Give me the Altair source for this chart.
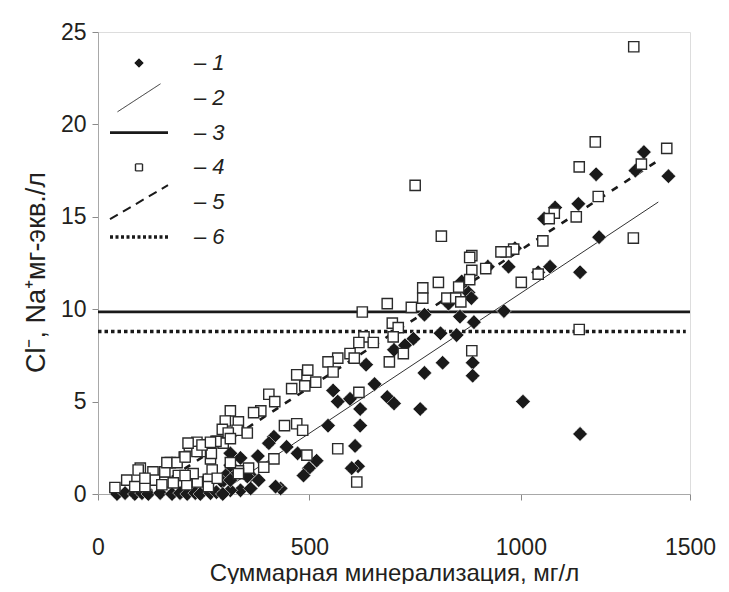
import altair as alt
import pandas as pd

# ---- series 1 : filled diamonds ----
dia_x = [1291, 1178, 1271, 1349, 1081, 1136, 1055, 986, 971, 1069, 1185, 1140, 1041, 960, 1005, 1140,
         922, 860, 876, 883, 829, 856, 889, 810, 848,
         772, 746, 700, 726, 634, 772, 815, 886, 886, 654, 556, 567, 596, 620, 684, 700, 762, 544, 620,
         446, 472, 608, 517, 499, 486, 615, 600, 432,
         416, 404, 378, 337, 313, 361, 380, 337, 361, 313, 420, 306, 313, 294, 353, 313,
         235, 254, 223, 45, 64, 87, 104, 119, 147, 175, 194, 211, 230, 242, 266, 280, 295]
dia_y = [18.5, 17.3, 17.5, 17.2, 15.5, 15.7, 14.9, 13.3, 12.3, 12.3, 13.9, 12.0, 12.0, 9.9, 5.0, 3.25,
         12.3, 11.5, 10.9, 10.6, 10.3, 9.6, 9.3, 8.7, 8.6,
         9.7, 8.4, 7.8, 8.05, 7.0, 6.55, 7.1, 7.1, 6.4, 5.95, 5.6, 5.0, 5.15, 4.6, 5.25, 4.9, 4.6, 3.7, 3.7,
         2.55, 2.2, 2.6, 1.8, 1.4, 1.0, 1.5, 1.4, 0.3,
         3.1, 2.75, 2.05, 1.95, 2.2, 1.0, 0.75, 0.2, 0.3, 0.2, 0.4, 1.1, 1.55, 0.65, 0.95, 0.75,
         0.6, 0.75, 0.4, 0.0, 0.05, 0.0, 0.05, 0.0, 0.05, 0.0, 0.05, 0.0, 0.05, 0.0, 0.05, 0.1, 0.0]

# ---- series 4 : open squares ----
sq_x = [1267, 1176, 1345, 1138, 1285, 1183, 1079, 1067, 1131, 1052, 983, 965, 953, 1266, 1041, 1001, 1138,
        812, 884, 879, 917, 884, 879, 805, 853, 825, 846, 858, 750,
        768, 768, 684, 741, 625, 696, 710, 698, 629, 617, 651, 596, 606, 722, 689, 567, 544, 556, 496,
        470, 515, 489, 458, 884, 617, 441, 470, 484, 494, 567, 612,
        404, 418, 385, 368, 313, 301, 332, 294, 329, 353, 308, 282, 296, 313, 261, 416, 392, 356, 332,
        313, 266, 270, 261, 261,
        216, 234, 254, 279, 242, 268, 204, 171, 100, 130, 68, 40, 135, 158, 190, 178, 210, 235, 282,
        87, 111, 225, 332, 158, 163, 187, 151, 206, 206, 234, 246, 266, 213, 95, 111]
sq_y = [24.2, 19.05, 18.7, 17.7, 17.85, 16.1, 15.2, 14.9, 15.0, 13.7, 13.25, 13.1, 13.1, 13.85, 11.9, 11.45, 8.9,
        13.95, 12.9, 12.8, 12.2, 12.1, 11.6, 11.45, 11.2, 10.6, 10.6, 10.4, 16.7,
        11.15, 10.6, 10.3, 10.1, 9.85, 9.25, 9.0, 8.5, 8.5, 8.2, 8.2, 7.6, 7.35, 7.6, 7.15, 7.35, 7.15, 6.6, 6.7,
        6.45, 6.05, 5.85, 5.7, 7.75, 5.5, 3.7, 3.8, 3.45, 2.1, 2.45, 0.65,
        5.4, 5.0, 4.5, 4.4, 4.5, 3.95, 3.9, 3.5, 3.45, 3.3, 3.3, 2.85, 2.75, 3.0, 2.65, 1.9, 1.45, 1.4, 1.25,
        1.7, 1.9, 1.3, 0.8, 0.4,
        2.6, 2.8, 2.65, 2.85, 2.3, 2.2, 2.0, 1.7, 1.4, 1.2, 0.75, 0.35, 0.75, 0.65, 1.0, 0.6, 0.5, 0.65, 0.85,
        0.4, 0.4, 1.1, 1.1, 1.2, 1.7, 1.7, 0.5, 1.0, 2.0, 2.3, 2.65, 2.8, 2.75, 1.3, 0.85]

# ---- lines ----
trend2_x = [290, 1325]
trend2_y = [0.1, 15.8]
trend5_x = [115, 1325]
trend5_y = [0.03, 18.05]
level3 = 9.85
level6 = 8.8
level_x_start = [0, 0]
level_x_end = [1400, 1390]

series_ids = ["1", "2", "3", "4", "5", "6"]
x_ticks = [0, 500, 1000, 1400]
x_tick_labels = ["0", "500", "1000", "1500"]
y_ticks = [0, 5, 10, 15, 20, 25]

FONT = "Liberation Sans"
INK = "#231f20"

points = pd.concat([
    pd.DataFrame({"x": dia_x, "y": dia_y, "series": "1"}),
    pd.DataFrame({"x": sq_x, "y": sq_y, "series": "4"}),
], ignore_index=True)
points["order"] = range(len(points))

t2 = pd.DataFrame({"x": trend2_x, "y": trend2_y})
t5 = pd.DataFrame({"x": trend5_x, "y": trend5_y})
lv3 = pd.DataFrame({"y": [level3], "x": [level_x_start[0]], "x2": [level_x_end[0]]})
lv6 = pd.DataFrame({"y": [level6], "x": [level_x_start[1]], "x2": [level_x_end[1]]})

label_expr = " : ".join(
    [f"datum.value == {v} ? '{l}'" for v, l in zip(x_ticks, x_tick_labels)] + ["datum.label"]
)

xscale = alt.Scale(domain=[0, 1400], nice=False, zero=False)
yscale = alt.Scale(domain=[0, 25], nice=False)

xaxis = alt.Axis(values=x_ticks, labelExpr=label_expr, grid=False, domainColor="#a8a8a8",
                 tickColor="#8a8a8a", tickSize=6, labelFont=FONT, labelFontSize=23,
                 labelColor=INK, labelPadding=36, labelFlush=False, labelOverlap=False,
                 title="Суммарная минерализация, мг/л", titleFont=FONT, titleFontSize=24,
                 titleFontWeight="normal", titleColor=INK, titleBaseline="middle",
                 titleAlign="center", titleY=79)
yaxis = alt.Axis(values=y_ticks, grid=False, domainColor="#a8a8a8", tickColor="#8a8a8a",
                 tickSize=6, labelFont=FONT, labelFontSize=23, labelColor=INK, labelPadding=6,
                 title="Cl⁻, Na⁺мг-экв./л", titleFont=FONT, titleFontSize=27,
                 titleFontWeight="normal", titleColor=INK, titleBaseline="middle",
                 titleAlign="center", titleX=-62, titleY=240, titleAngle=270)

X = alt.X("x:Q", scale=xscale, axis=xaxis)
Y = alt.Y("y:Q", scale=yscale, axis=yaxis)

legend = alt.Legend(orient="none", legendX=30, legendY=20, title=None,
                    labelExpr="'– ' + datum.label", labelFont=FONT, labelFontSize=22,
                    labelFontStyle="italic", labelColor=INK, rowPadding=-7.2, labelOffset=44,
                    gridAlign="all", symbolSize=100, padding=0, direction="vertical")

shape_range = ["diamond", "M-4.3,2.8L4.3,-2.8", "M-5.8,0L5.8,0",
               "M-0.7,-0.7L0.7,-0.7L0.7,0.7L-0.7,0.7Z", "M-5.8,3.4L5.8,-3.4", "M-5.8,0L5.8,0"]
fill_range = ["#1a1a1a", "transparent", "transparent", "white", "transparent", "transparent"]
stroke_range = ["white", "#1a1a1a", "#1a1a1a", "#2a2a2a", "#1a1a1a", "#1a1a1a"]
dash_range = [[1, 0], [1, 0], [1, 0], [1, 0], [9, 6], [3, 2.5]]
sw_range = [0.6, 0.9, 2.8, 1.4, 2.0, 3.5]

pts = alt.Chart(points).mark_point(filled=True, size=215, opacity=1).encode(
    x=X, y=Y,
    shape=alt.Shape("series:N", scale=alt.Scale(domain=series_ids, range=shape_range), legend=legend),
    fill=alt.Fill("series:N", scale=alt.Scale(domain=series_ids, range=fill_range), legend=legend),
    stroke=alt.Stroke("series:N", scale=alt.Scale(domain=series_ids, range=stroke_range), legend=legend),
    strokeDash=alt.StrokeDash("series:N", scale=alt.Scale(domain=series_ids, range=dash_range), legend=legend),
    strokeWidth=alt.StrokeWidth("series:N", scale=alt.Scale(type="ordinal", domain=series_ids, range=sw_range), legend=legend),
    order=alt.Order("order:Q"),
)

line2 = alt.Chart(t2).mark_line(color="#1a1a1a", strokeWidth=0.9).encode(x=X, y=Y)
line5 = alt.Chart(t5).mark_line(color="#1a1a1a", strokeWidth=2.6, strokeDash=[7, 8]).encode(x=X, y=Y)
rule3 = alt.Chart(lv3).mark_rule(color="#1a1a1a", strokeWidth=2.8).encode(x=X, x2="x2:Q", y=Y)
rule6 = alt.Chart(lv6).mark_rule(color="#1a1a1a", strokeWidth=3.5, strokeDash=[3.5, 3]).encode(x=X, x2="x2:Q", y=Y)

chart = alt.layer(rule3, rule6, line2, line5, pts).properties(
    width=592, height=462,
    autosize=alt.AutoSizeParams(type="none"),
    padding={"left": 90, "top": 24, "right": 30, "bottom": 90},
).configure_view(stroke="#b5b5b5", strokeWidth=1.3).configure(background="white")

chart.save("out.html", embed_options={"renderer": "svg", "actions": False})
